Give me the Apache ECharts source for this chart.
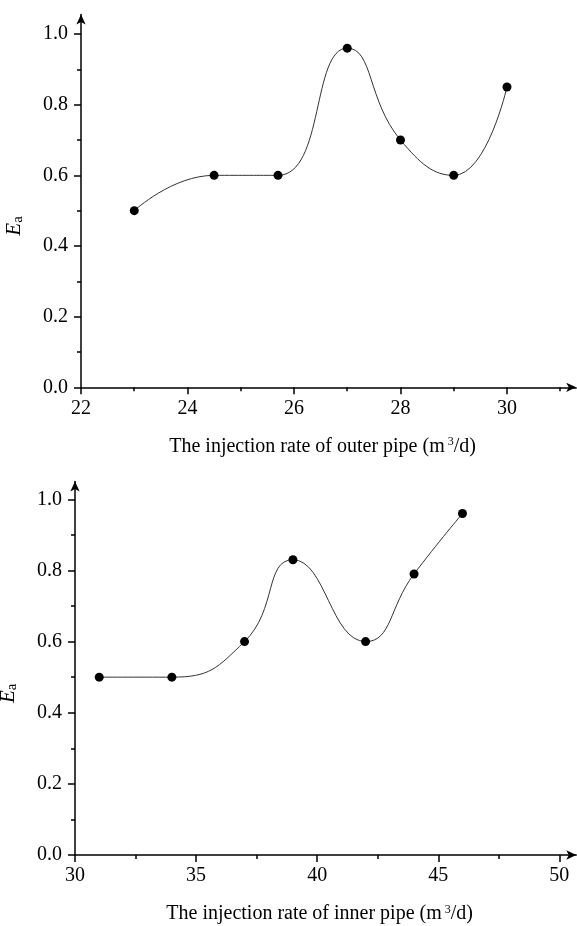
<!DOCTYPE html>
<html>
<head>
<meta charset="utf-8">
<script src="https://cdn.jsdelivr.net/npm/echarts@6/dist/echarts.min.js"></script>
<style>
  html, body { margin: 0; padding: 0; background: #fff; }
  #chart { width: 577px; height: 926px; }
</style>
</head>
<body>
<div id="chart"></div>
<script>
// outer pipe panel (top)
var outerRate = [23, 24.5, 25.7, 27, 28, 29, 30];
var outerEa = [0.5, 0.6, 0.6, 0.96, 0.7, 0.6, 0.85];
var outerMajor = [22, 24, 26, 28, 30];
var outerMinor = [23, 25, 27, 29, 31];

// inner pipe panel (bottom)
var innerRate = [31, 34, 37, 39, 42, 44, 46];
var innerEa = [0.5, 0.5, 0.6, 0.83, 0.6, 0.79, 0.96];
var innerMajor = [30, 35, 40, 45, 50];
var innerMinor = [32.5, 37.5, 42.5, 47.5];

var eaMajor = [0, 0.2, 0.4, 0.6, 0.8, 1.0];
var eaMinor = [0.1, 0.3, 0.5, 0.7, 0.9];

var font = 'Liberation Serif';

function zip(xs, ys) {
    var out = [];
    for (var i = 0; i < xs.length; i++) {
        out.push([xs[i], ys[i]]);
    }
    return out;
}

function mainX(grid, min, max, ticks, title) {
    return {
        type: 'value', gridIndex: grid, position: 'bottom', min: min, max: max,
        name: '{t|' + title + ' (m}{sup|3}{t|/d)}',
        nameLocation: 'middle', nameGap: 49,
        nameTextStyle: {
            padding: [0, 12, 0, 0],
            rich: {
                t: { fontFamily: font, fontSize: 20, color: '#000', lineHeight: 24, verticalAlign: 'top' },
                sup: { fontFamily: font, fontSize: 12, color: '#000', lineHeight: 10, verticalAlign: 'top', padding: [0, 0, 0, 3] }
            }
        },
        axisLine: { onZero: false, lineStyle: { color: '#000', width: 1.5 }, symbol: ['none', 'arrow'], symbolSize: [7, 10] },
        axisTick: { inside: false, length: 7, lineStyle: { color: '#000', width: 1.5 }, customValues: ticks },
        axisLabel: { customValues: ticks, margin: 11, color: '#000', fontFamily: font, fontSize: 20 },
        splitLine: { show: false }
    };
}

function minorX(grid, min, max, ticks) {
    return {
        type: 'value', gridIndex: grid, position: 'bottom', offset: 0, min: min, max: max,
        axisLine: { show: false, onZero: false },
        axisTick: { inside: false, length: 4, lineStyle: { color: '#000', width: 1.5 }, customValues: ticks },
        axisLabel: { show: false },
        splitLine: { show: false }
    };
}

function mainY(grid, max) {
    return {
        type: 'value', gridIndex: grid, position: 'left', min: 0, max: max,
        name: '{e|E}{s|a}',
        nameLocation: 'middle', nameGap: 45, nameRotate: 90,
        nameTextStyle: {
            padding: [0, 50, 0, 0],
            rich: {
                e: { fontFamily: font, fontStyle: 'italic', fontSize: 21, color: '#000', lineHeight: 21, verticalAlign: 'top', padding: [0, 0, 7, 0] },
                s: { fontFamily: font, fontSize: 15, color: '#000', lineHeight: 15, verticalAlign: 'bottom' }
            }
        },
        axisLine: { onZero: false, lineStyle: { color: '#000', width: 1.5 }, symbol: ['none', 'arrow'], symbolSize: [7, 10] },
        axisTick: { length: 7, lineStyle: { color: '#000', width: 1.5 }, customValues: eaMajor },
        axisLabel: {
            customValues: eaMajor, margin: 13, color: '#000', fontFamily: font, fontSize: 20,
            formatter: function (v) { return v.toFixed(1); }
        },
        splitLine: { show: false }
    };
}

function minorY(grid, max) {
    return {
        type: 'value', gridIndex: grid, position: 'left', offset: 0, min: 0, max: max,
        axisLine: { show: false, onZero: false },
        axisTick: { length: 4, lineStyle: { color: '#000', width: 1.5 }, customValues: eaMinor },
        axisLabel: { show: false },
        splitLine: { show: false }
    };
}

function curve(xIdx, yIdx, data) {
    return {
        type: 'line', xAxisIndex: xIdx, yAxisIndex: yIdx,
        data: data, smooth: 0.5,
        symbol: 'circle', symbolSize: 9,
        itemStyle: { color: '#000' },
        lineStyle: { color: '#333', width: 1 },
        z: 3
    };
}

var chart = echarts.init(document.getElementById('chart'));
chart.setOption({
    backgroundColor: '#fff',
    animation: false,
    grid: [
        { left: 81, right: 0.8, top: 14.6, height: 372.7, containLabel: false, outerBoundsMode: 'none' },
        { left: 75, right: 0.7, top: 481.5, height: 373.5, containLabel: false, outerBoundsMode: 'none' }
    ],
    xAxis: [
        mainX(0, 22, 31.3, outerMajor, 'The injection rate of outer pipe'),
        minorX(0, 22, 31.3, outerMinor),
        mainX(1, 30, 50.7, innerMajor, 'The injection rate of inner pipe'),
        minorX(1, 30, 50.7, innerMinor)
    ],
    yAxis: [
        mainY(0, 1.055),
        minorY(0, 1.055),
        mainY(1, 1.05),
        minorY(1, 1.05)
    ],
    series: [
        curve(0, 0, zip(outerRate, outerEa)),
        curve(2, 2, zip(innerRate, innerEa))
    ]
});
</script>
</body>
</html>
